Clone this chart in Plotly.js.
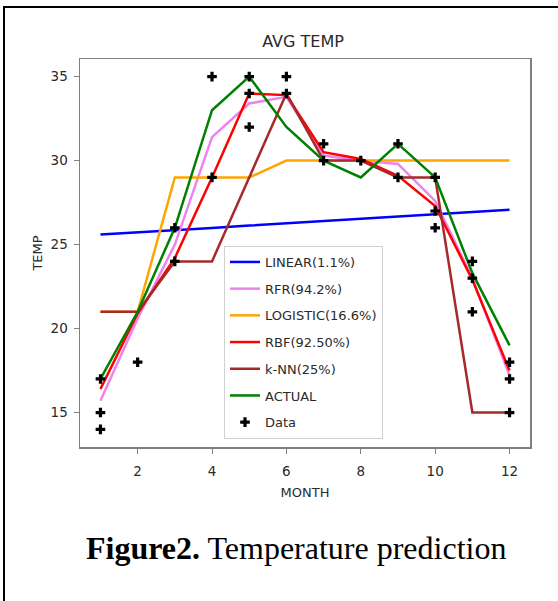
<!DOCTYPE html>
<html>
<head>
<meta charset="utf-8">
<script src="https://cdn.plot.ly/plotly-3.0.1.min.js"></script>
<style>
  html, body { margin: 0; padding: 0; background: #fff; }
  #chart { width: 558px; height: 601px; }
</style>
</head>
<body>
<div id="chart"></div>
<script>
const months = [1, 2, 3, 4, 5, 6, 7, 8, 9, 10, 11, 12];
const linearVals   = [25.6, 25.72, 25.86, 25.99, 26.13, 26.27, 26.4, 26.54, 26.68, 26.82, 26.95, 27.08];
const rfrVals      = [15.7, 20.6, 25.0, 31.4, 33.4, 33.8, 30.3, 30.0, 29.8, 27.6, 23.0, 17.2];
const logisticVals = [21, 21, 29, 29, 29, 30, 30, 30, 30, 30, 30, 30];
const rbfVals      = [16.4, 20.9, 24.2, 29.0, 34.0, 33.9, 30.5, 30.1, 29.1, 27.3, 22.9, 17.5];
const knnVals      = [21, 21, 24, 24, 29, 34, 30, 30, 29, 29, 15, 15];
const actualVals   = [17, 21, 26, 33, 35, 32, 30, 29, 31, 29, 23.3, 19];
const dataX = [1, 1, 1, 2, 3, 3, 4, 4, 5, 5, 5, 6, 6, 7, 7, 8, 9, 9, 10, 10, 10, 11, 11, 11, 12, 12, 12];
const dataY = [17, 15, 14, 18, 26, 24, 35, 29, 35, 34, 32, 35, 34, 31, 30, 30, 31, 29, 29, 27, 26, 24, 23, 21, 18, 17, 15];
const xTicks = [2, 4, 6, 8, 10, 12];
const yTicks = [15, 20, 25, 30, 35];

const seriesNames  = ['LINEAR(1.1%)', 'RFR(94.2%)', 'LOGISTIC(16.6%)', 'RBF(92.50%)', 'k-NN(25%)', 'ACTUAL'];
const seriesVals   = [linearVals, rfrVals, logisticVals, rbfVals, knnVals, actualVals];
const seriesColors = ['#0000ff', '#ee82ee', '#ffa500', '#ff0000', '#a52a2a', '#008000'];

const font = 'DejaVu Sans, sans-serif';
const traces = seriesNames.map((n, i) => ({
  type: 'scatter', mode: 'lines', name: n, x: months, y: seriesVals[i],
  line: { color: seriesColors[i], width: 2.5 }, legendgroup: 'g' + i
}));
traces.push({
  type: 'scatter', mode: 'markers', name: 'Data', x: dataX, y: dataY,
  marker: { symbol: 'cross', size: 8, color: '#000' }, legendgroup: 'g6'
});

const layout = {
  width: 558, height: 601,
  margin: { l: 80, r: 28, t: 59, b: 154 },
  paper_bgcolor: '#fff', plot_bgcolor: '#fff',
  font: { family: font, size: 13, color: '#2a2a2a' },
  showlegend: true,
  title: { text: 'AVG TEMP', font: { family: font, size: 16, color: '#2a2a2a' },
           x: 303 / 558, xanchor: 'center', xref: 'container',
           y: 1 - 41.5 / 601, yanchor: 'middle', yref: 'container' },
  xaxis: {
    range: [0.45, 12.55], tickvals: xTicks, ticktext: xTicks.map(String),
    showgrid: false, zeroline: false, showline: true, mirror: true,
    linecolor: '#808080', linewidth: 1.5, ticks: 'outside', ticklen: 5,
    tickcolor: '#808080', tickfont: { family: font, size: 13.5, color: '#2a2a2a' },
    ticklabelstandoff: 6,
    title: { text: 'MONTH', font: { family: font, size: 13, color: '#2a2a2a' }, standoff: 10 }
  },
  yaxis: {
    range: [12.95, 36.05], tickvals: yTicks, ticktext: yTicks.map(String),
    showgrid: false, zeroline: false, showline: true, mirror: true,
    linecolor: '#808080', linewidth: 1.5, ticks: 'outside', ticklen: 5,
    tickcolor: '#808080', tickfont: { family: font, size: 13.5, color: '#2a2a2a' },
    ticklabelstandoff: 3,
    title: { text: 'TEMP', font: { family: font, size: 13, color: '#2a2a2a' }, standoff: 5 }
  },
  legend: {
    x: (224 - 80) / 450, y: (447 - 246) / 388, xanchor: 'left', yanchor: 'top',
    bgcolor: 'rgba(255,255,255,0.85)', bordercolor: '#d0d0d0', borderwidth: 1,
    font: { family: font, size: 13, color: '#2a2a2a' }, tracegroupgap: 6.8,
    traceorder: 'grouped'
  },
  shapes: [{
    type: 'rect', xref: 'paper', yref: 'paper',
    x0: (4 - 80) / 450, x1: 1.3, y0: -0.6, y1: (447 - 7) / 388,
    line: { color: '#000', width: 2 }, fillcolor: 'rgba(0,0,0,0)', layer: 'below'
  }],
  annotations: [{
    xref: 'paper', yref: 'paper', x: (296 - 80) / 450, y: (447 - 548) / 388,
    xanchor: 'center', yanchor: 'middle', showarrow: false,
    text: '<b>Figure2.</b> Temperature prediction',
    font: { family: 'Liberation Serif, Times New Roman, serif', size: 32, color: '#000' }
  }]
};

Plotly.newPlot('chart', traces, layout, { displayModeBar: false, staticPlot: true });
</script>
</body>
</html>
